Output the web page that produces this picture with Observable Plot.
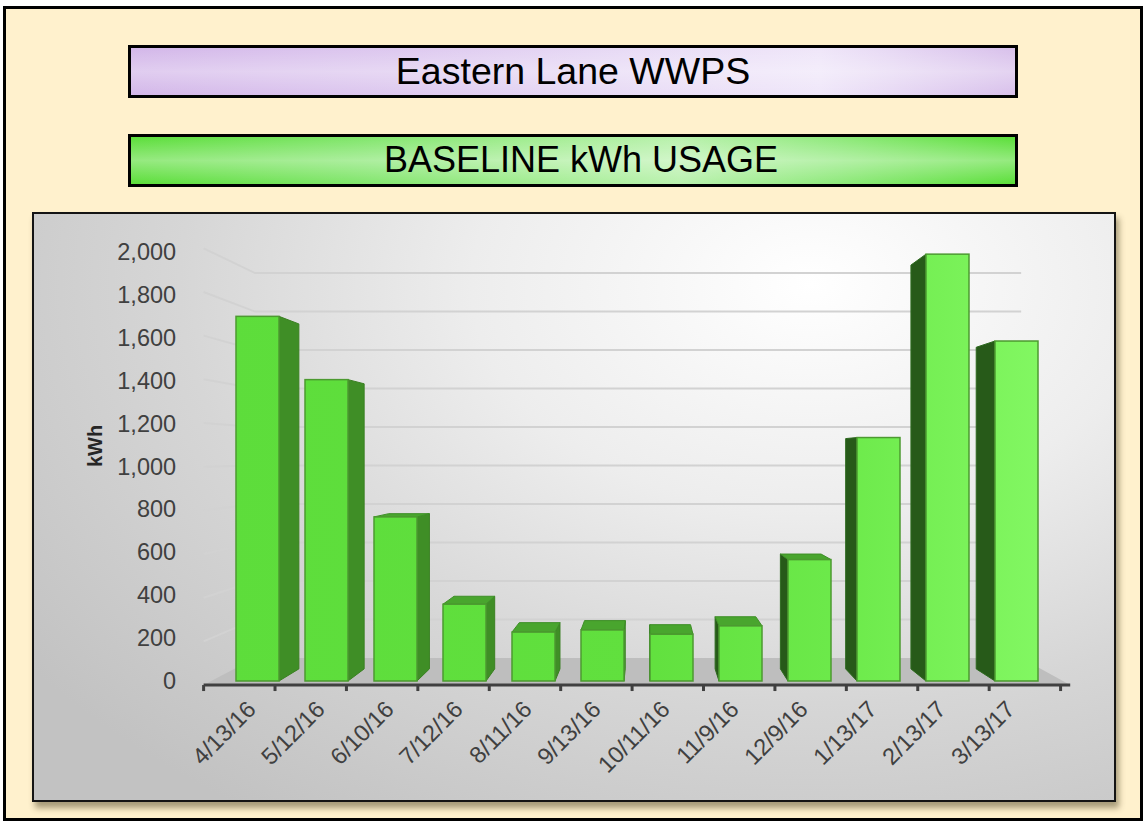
<!DOCTYPE html>
<html>
<head>
<meta charset="utf-8">
<script src="https://cdn.jsdelivr.net/npm/d3@7"></script>
<script src="https://cdn.jsdelivr.net/npm/@observablehq/plot@0.6"></script>
<style>
  html, body { margin: 0; padding: 0; background: #ffffff; }
  #page { position: relative; width: 1143px; height: 823px; overflow: hidden; font-family: "Liberation Sans", Arial, sans-serif; }
  #frame { position: absolute; left: 3px; top: 6px; width: 1140px; height: 815px; box-sizing: border-box; border: 3px solid #000; background: #FFF1CD; }
  .titlebox { position: absolute; left: 128px; width: 890px; box-sizing: border-box; border: 3.4px solid #000; display: flex; align-items: center; justify-content: center; color: #000; line-height: 1; }
  #t1 { top: 45px; height: 53px; font-size: 37.5px;
        background: linear-gradient(to bottom, rgba(255,255,255,0) 0%, rgba(255,255,255,0.3) 50%, rgba(255,255,255,0) 100%),
                    linear-gradient(to right, #D3B7E9 0%, #DDC8EF 30%, #E9DDF6 60%, #EFE6F9 78%, #D8C0EB 100%); }
  #t2 { top: 134px; height: 52.5px; font-size: 36px; padding-left: 16px;
        background: linear-gradient(to bottom, rgba(255,255,255,0) 0%, rgba(255,255,255,0.35) 50%, rgba(255,255,255,0) 100%),
                    linear-gradient(to right, #5CDE3A 0%, #7FE569 25%, #A8EE98 50%, #B9F1AD 62%, #8EE97A 80%, #5BDF39 100%); }
  #panel { position: absolute; left: 32px; top: 212px; width: 1084px; height: 590px; box-sizing: border-box; border: 2px solid #141414;
           background: radial-gradient(ellipse 90% 110% at 72% 12%, #FFFFFF 0%, #EDEDED 35%, #D6D6D6 65%, #C2C2C2 100%);
           box-shadow: 3px 6px 6px rgba(60,50,20,0.45); }
  #chart { position: absolute; left: 0; top: 0; }
</style>
</head>
<body>
<div id="page">
  <div id="frame"></div>
  <div class="titlebox" id="t1">Eastern Lane WWPS</div>
  <div class="titlebox" id="t2">BASELINE kWh USAGE</div>
  <div id="panel"></div>
  <div id="chart"></div>
</div>
<script>
// ---- data ----
const dates = ["4/13/16", "5/12/16", "6/10/16", "7/12/16", "8/11/16", "9/13/16", "10/11/16", "11/9/16", "12/9/16", "1/13/17", "2/13/17", "3/13/17"];
const kwh = [1700, 1405, 765, 358, 228, 238, 218, 257, 566, 1135, 1990, 1585];
const yTicks = [0, 200, 400, 600, 800, 1000, 1200, 1400, 1600, 1800, 2000];
const yLabel = "kWh";

const data = dates.map((d, i) => ({date: d, kwh: kwh[i]}));

// ---- perspective (3-D look) ----
const VP = {x: 647, y: 456.8};
const FRONT = [1.035, 1.018];
const BACK = [0.915, 0.897];
const BARBACK = [0.946, 0.946];
const P = (px, py, r) => [VP.x + (px - VP.x) * r[0], VP.y + (py - VP.y) * r[1]];

const NS = "http://www.w3.org/2000/svg";
function el(tag, attrs = {}) {
  const e = document.createElementNS(NS, tag);
  for (const [k, v] of Object.entries(attrs)) e.setAttribute(k, v);
  return e;
}
const pts = (arr) => arr.map(p => p[0].toFixed(2) + "," + p[1].toFixed(2)).join(" ");

// defs + floor + back wall gridlines + front axis line
function decor(index, scales) {
  const {x, y} = scales;
  const g = el("g");
  const [r0, r1] = x.range();
  const defs = el("defs");
  const grad = el("linearGradient", {id: "barFront", gradientUnits: "userSpaceOnUse", x1: r0, y1: 0, x2: r1, y2: 0});
  [["0", "#5DDD3B"], ["0.5", "#61E03E"], ["0.75", "#6DEA4B"], ["1", "#84F864"]].forEach(([o, c]) => grad.appendChild(el("stop", {offset: o, "stop-color": c})));
  defs.appendChild(grad);
  g.appendChild(defs);

  const y0 = y(0);
  // floor
  g.appendChild(el("polygon", {points: pts([P(r0, y0, FRONT), P(r1, y0, FRONT), P(r1, y0, BACK), P(r0, y0, BACK)]), fill: "#BEBEBE"}));
  // gridlines
  for (const v of yTicks) {
    if (v === 0) continue;
    const yv = y(v);
    const a = P(r0, yv, FRONT), b = P(r0, yv, BACK), c = P(r1, yv, BACK);
    g.appendChild(el("polyline", {points: pts([a, b, c]), fill: "none", stroke: "#D2D2D2", "stroke-width": 2}));
  }
  // front axis line and ticks at band boundaries
  const fa = P(r0, y0, FRONT), fb = P(r1, y0, FRONT);
  g.appendChild(el("line", {x1: fa[0], y1: fa[1], x2: fb[0], y2: fb[1], stroke: "#404040", "stroke-width": 3}));
  const step = x.step();
  for (let k = 0; k <= dates.length; k++) {
    const t = P(r0 + k * step, y0, FRONT);
    g.appendChild(el("line", {x1: t[0], y1: t[1], x2: t[0], y2: t[1] + 6, stroke: "#404040", "stroke-width": 3}));
  }
  return g;
}

// side and top faces of the bars
function faces(index, scales) {
  const {x, y} = scales;
  const g = el("g");
  const bw = x.bandwidth();
  const yb = y(0);
  data.forEach(d => {
    const xl = x(d.date), xr = xl + bw, yt = y(d.kwh);
    if (xr < VP.x) {
      g.appendChild(el("polygon", {points: pts([[xr, yt], P(xr, yt, BARBACK), P(xr, yb, BARBACK), [xr, yb]]), fill: "#3F8E26", stroke: "#3A8022", "stroke-width": 1}));
    }
    if (xl > VP.x) {
      g.appendChild(el("polygon", {points: pts([[xl, yt], P(xl, yt, BARBACK), P(xl, yb, BARBACK), [xl, yb]]), fill: "#275A19", stroke: "#2E6A1F", "stroke-width": 1}));
    }
    if (yt > VP.y) {
      g.appendChild(el("polygon", {points: pts([[xl, yt], [xr, yt], P(xr, yt, BARBACK), P(xl, yt, BARBACK)]), fill: "#49A52E", stroke: "#3E8F27", "stroke-width": 1}));
    }
  });
  return g;
}

const chart = Plot.plot({
  width: 1143,
  height: 823,
  marginLeft: 218.6,
  marginRight: 87.1,
  marginTop: 252,
  marginBottom: 142,
  style: {background: "transparent", fontFamily: "'Liberation Sans', Arial, sans-serif", fontSize: "23.5px", overflow: "visible"},
  x: {domain: dates, paddingInner: 0.384, paddingOuter: 0.192},
  y: {domain: [0, 2000]},
  marks: [
    decor,
    faces,
    Plot.barY(data, {x: "date", y: "kwh", fill: "url(#barFront)", stroke: "#4C9A30", strokeWidth: 1.5}),
    Plot.axisY({ticks: yTicks, tickFormat: d3.format(","), tickSize: 0, tickPadding: 43, fontSize: 23.5, color: "#404040", label: null}),
    Plot.axisX({tickSize: 0, tickRotate: -45, tickPadding: 24, dx: -6, fontSize: 23.5, color: "#404040", label: null}),
    Plot.text([yLabel], {frameAnchor: "left", dx: -124, rotate: -90, fontWeight: "bold", fontSize: 20, fill: "#262626"})
  ]
});
document.getElementById("chart").appendChild(chart);
</script>
</body>
</html>
